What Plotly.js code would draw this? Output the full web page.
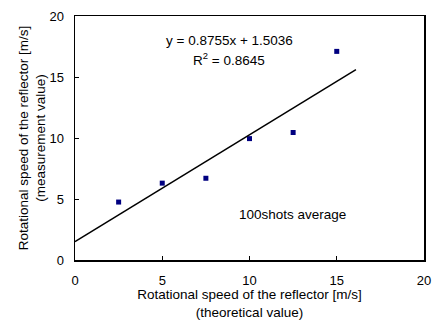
<!DOCTYPE html>
<html><head><meta charset="utf-8">
<script src="https://cdn.plot.ly/plotly-3.0.1.min.js"></script>
<style>body{margin:0;background:#fff}#c{width:435px;height:320px}</style>
</head><body><div id="c"></div>
<script>
const theoretical = [2.5, 5, 7.5, 10, 12.5, 15];
const measured = [4.75, 6.3, 6.7, 9.95, 10.45, 17.1];
const fitX = [0, 16.1];
const slope = 0.8755, intercept = 1.5036;
const fitY = fitX.map(x => slope * x + intercept);

const fam = 'Liberation Sans, Arial, sans-serif';
const tickFont = {family: fam, size: 13, color: '#000'};
const titleFont = {family: fam, size: 13.5, color: '#000'};
const annFont = {family: fam, size: 13.5, color: '#000'};
Plotly.newPlot('c', [
  {x: theoretical, y: measured, mode: 'markers', type: 'scatter',
   marker: {symbol: 'square', size: 5, color: '#000080'}},
  {x: fitX, y: fitY, mode: 'lines', type: 'scatter', line: {color: '#000', width: 1.5}}
], {
  width: 435, height: 320, showlegend: false,
  margin: {l: 74.5, r: 11, t: 16, b: 60},
  paper_bgcolor: '#fff', plot_bgcolor: '#fff', font: tickFont,
  xaxis: {range: [0, 20], dtick: 5, ticks: 'inside', ticklen: 4, tickcolor: '#000',
    showline: true, linecolor: '#000', linewidth: 1.5, mirror: true, showgrid: false, zeroline: false,
    tickfont: tickFont, ticklabelstandoff: 8,
    title: {text: 'Rotational speed of the reflector [m/s]<br>(theoretical value)', font: titleFont, standoff: 10}},
  yaxis: {range: [0, 20], dtick: 5, ticks: 'inside', ticklen: 4, tickcolor: '#000',
    showline: true, linecolor: '#000', linewidth: 1.5, mirror: true, showgrid: false, zeroline: false,
    tickfont: tickFont, ticklabelstandoff: 7,
    title: {text: 'Rotational speed of the reflector [m/s]<br>(measurement value)', font: titleFont, standoff: 0}},
  annotations: [
    {x: 229, y: 40, text: 'y = 0.8755x + 1.5036', showarrow: false, font: annFont},
    {x: 229, y: 59, text: 'R<sup>2</sup> = 0.8645', showarrow: false, font: annFont},
    {x: 292, y: 214, text: '100shots average', showarrow: false, font: annFont}
  ].map(a => {
    const px = (a.x - 74.5) / (424 - 74.5), py = 1 - (a.y - 16) / (260 - 16);
    return Object.assign({}, a, {x: px, y: py, xref: 'paper', yref: 'paper', xanchor: 'center', yanchor: 'middle'});
  })
}, {staticPlot: true});
</script></body></html>
